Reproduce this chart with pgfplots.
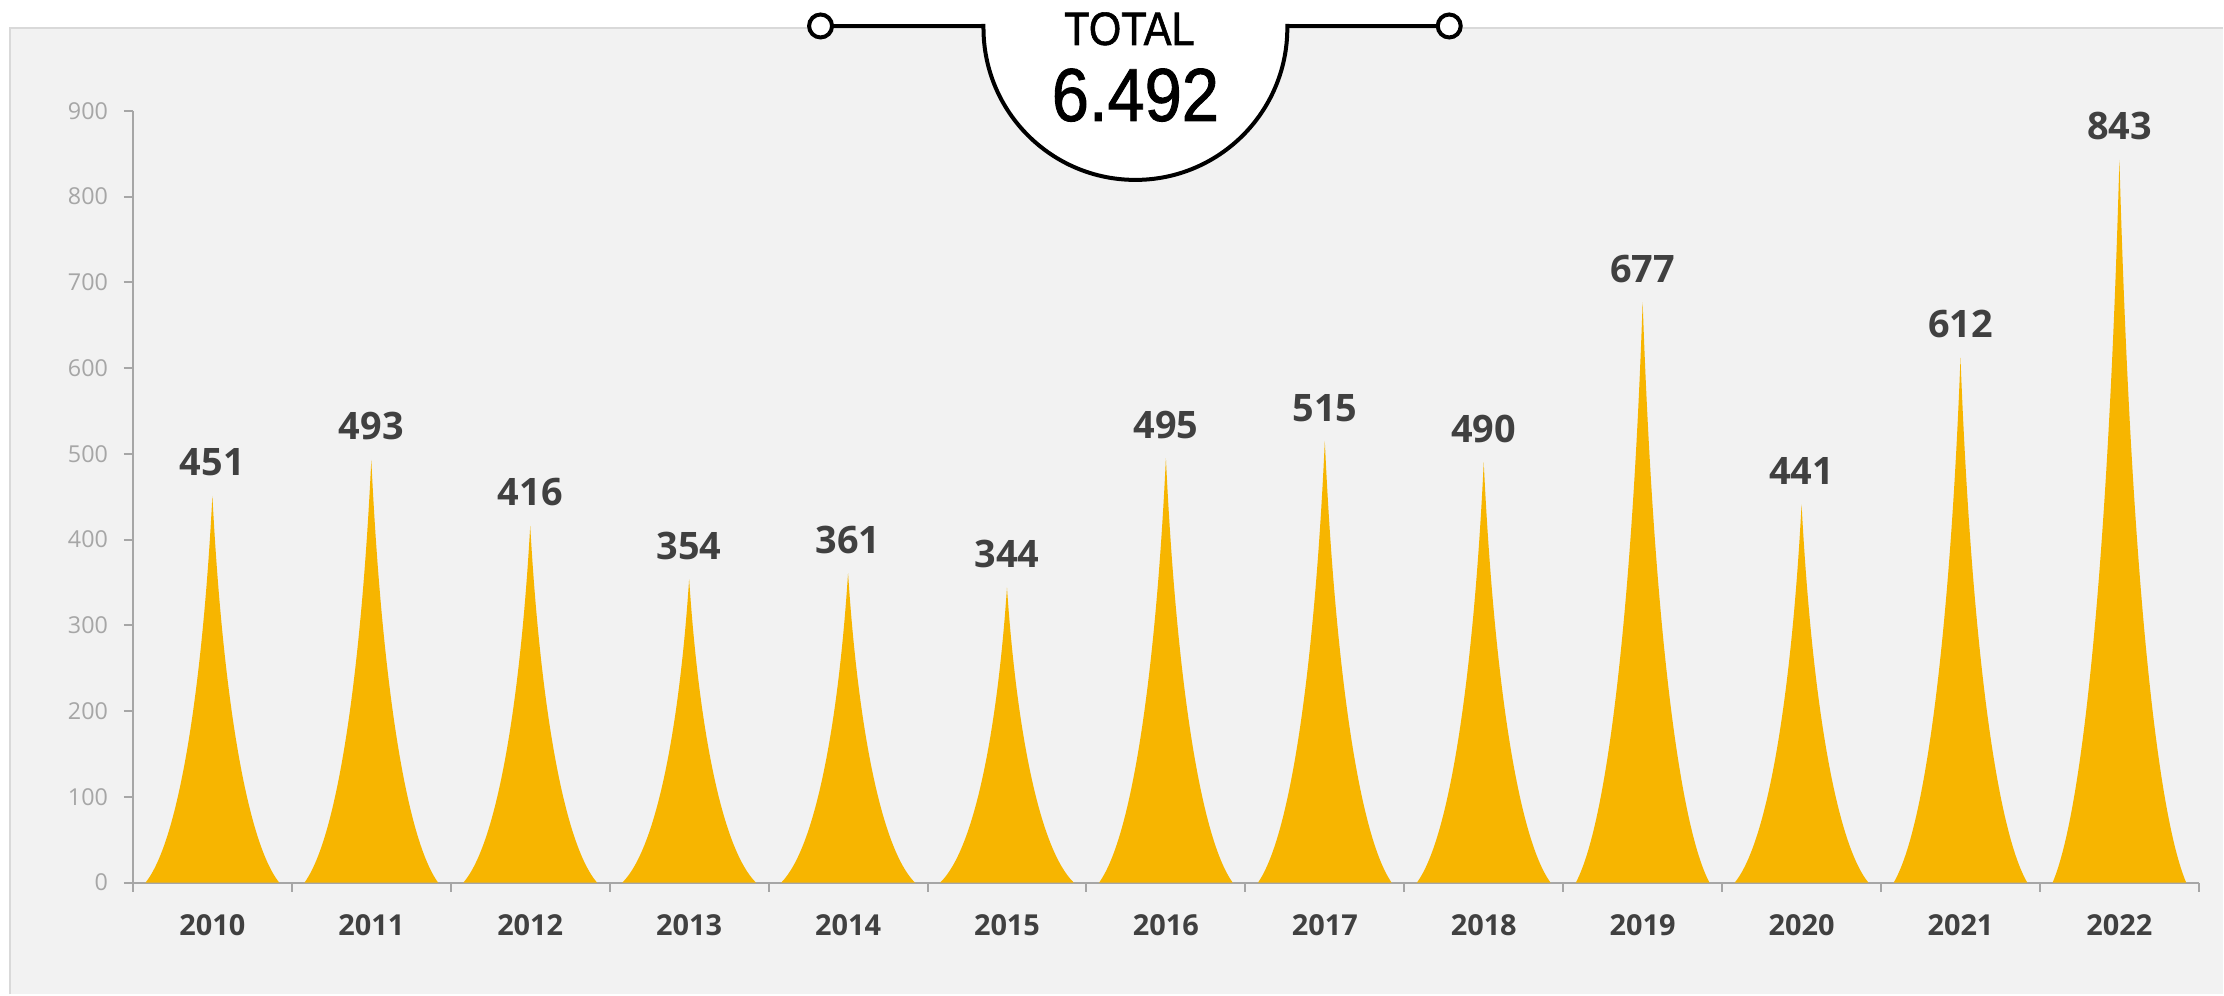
\documentclass[border=0pt]{standalone}
\usepackage{pgfplots}
\pgfplotsset{compat=1.18}
\usepackage{pgfplotstable}
\usepackage{fontspec}
\setmainfont{Open Sans}
\newfontfamily\narrowfont[FakeStretch=0.89, FakeBold=1.2]{Liberation Sans}

\definecolor{gold}{HTML}{F7B500}
\definecolor{panel}{HTML}{F2F2F2}
\definecolor{edge}{HTML}{D9D9D9}
\definecolor{axisgray}{HTML}{A6A6A6}
\definecolor{txt}{HTML}{404040}

% one row per year
\pgfplotstableread{
idx year value
0 2010 451
1 2011 493
2 2012 416
3 2013 354
4 2014 361
5 2015 344
6 2016 495
7 2017 515
8 2018 490
9 2019 677
10 2020 441
11 2021 612
12 2022 843
}\data

\begin{document}
\begin{tikzpicture}[x=0.5bp,y=0.5bp]
% background and panel, in image pixels (y from the bottom)
\fill[white] (0,0) rectangle (2224,995);
\fill[panel] (10,0) rectangle (2224,967);
\draw[edge,line width=1.2bp] (10,0) -- (10,967) -- (2224,967);
\coordinate (corner) at (133,112);

\begin{axis}[
    at={(corner)}, anchor=south west,
    scale only axis, width=1033.5bp, height=386bp,
    xmin=-0.5, xmax=12.5, ymin=0, ymax=900,
    axis lines=left,
    axis line style={axisgray, line width=1bp, -},
    tick align=outside,
    major tick length=4.5bp,
    tick style={axisgray, line width=1bp},
    ytick={0,100,...,900},
    yticklabel style={font=\fontsize{11.7}{12}\selectfont, text=axisgray, xshift=-4.5bp},
    /pgf/number format/assume math mode=true,
    xtick={-0.5,0.5,...,12.5},
    xticklabels={},
    extra x ticks={0,1,...,12},
    extra x tick labels={2010,2011,2012,2013,2014,2015,2016,2017,2018,2019,2020,2021,2022},
    extra x tick style={major tick length=0pt,
        xticklabel style={font=\bfseries\fontsize{14.5}{15}\selectfont, text=txt, anchor=base, yshift=-26.5bp}},
    clip=false,
]
% spike for each year: base half-width 0.42, concave sides
\pgfplotsforeachungrouped \i in {0,...,12}{%
  \pgfplotstablegetelem{\i}{value}\of\data
  \pgfmathsetmacro\v{\pgfplotsretval}
  \pgfmathsetmacro\xa{\i-0.42}\pgfmathsetmacro\xb{\i-0.21}\pgfmathsetmacro\xc{\i-0.063}
  \pgfmathsetmacro\xd{\i+0.063}\pgfmathsetmacro\xe{\i+0.21}\pgfmathsetmacro\xf{\i+0.42}
  \pgfmathsetmacro\ya{0.11*\v}\pgfmathsetmacro\yb{0.5*\v}
  \edef\spike{\noexpand\fill[gold] (axis cs:\xa,0)
     .. controls (axis cs:\xb,\ya) and (axis cs:\xc,\yb) .. (axis cs:\i,\v)
     .. controls (axis cs:\xd,\yb) and (axis cs:\xe,\ya) .. (axis cs:\xf,0) -- cycle;}
  \spike
}
\addplot[draw=none, mark=none, nodes near coords,
    nodes near coords style={font=\bfseries\fontsize{19}{19}\selectfont, text=txt, anchor=base, yshift=10bp}]
    table[x=idx, y=value] {\data};
\end{axis}

% TOTAL badge
\draw[line width=2bp] (821,969) -- (984,969);
\draw[line width=2bp] (1288,969) -- (1450,969);
\draw[line width=2bp, fill=white] (984,971) -- (984,967) arc[start angle=180, end angle=360, radius=76bp] -- (1288,971);
\draw[line width=2bp, fill=white] (821,969) circle[radius=5.75bp];
\draw[line width=2bp, fill=white] (1450,969) circle[radius=5.75bp];
\node[font=\narrowfont\fontsize{23.5}{24}\selectfont, anchor=base, inner sep=0pt] at (1130,950) {TOTAL};
\node[font=\narrowfont\fontsize{37.7}{38}\selectfont, anchor=base, inner sep=0pt] at (1136,874) {6.492};
\end{tikzpicture}
\end{document}
